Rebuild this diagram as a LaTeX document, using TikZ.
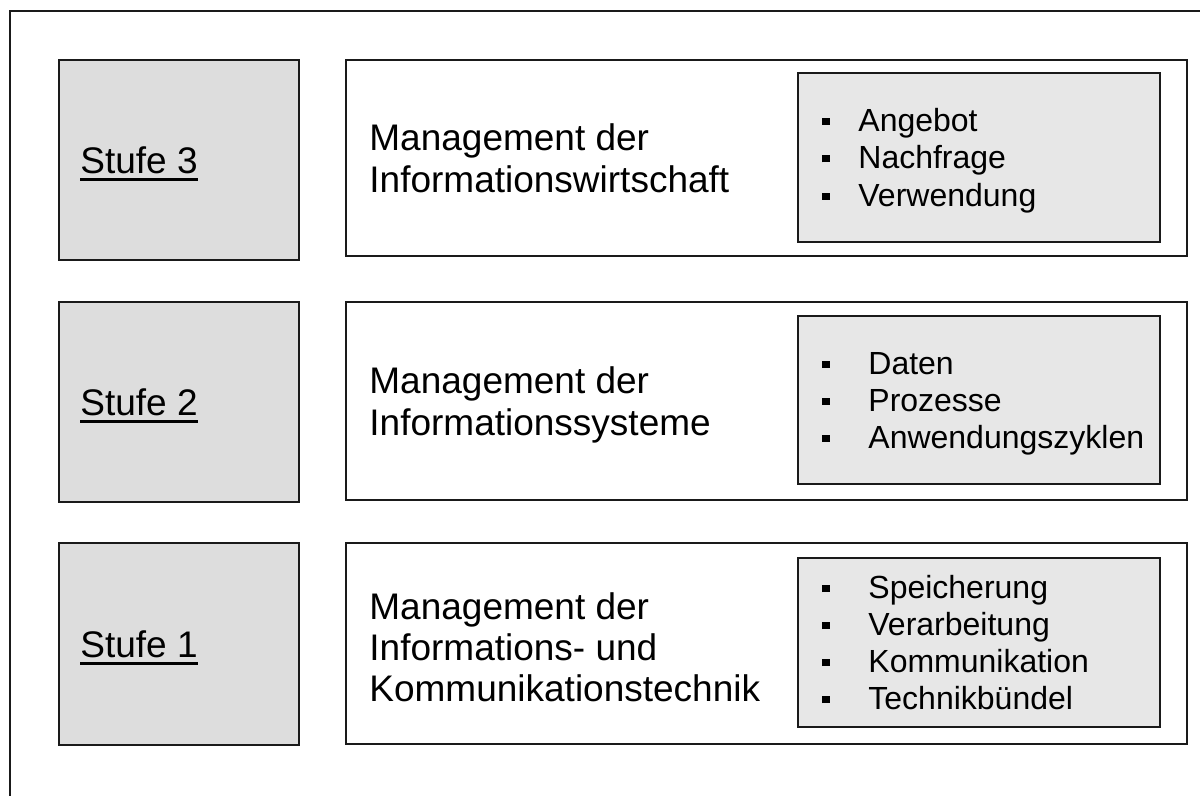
\documentclass[tikz,border=0pt]{standalone}
\usepackage{fontspec}
\setmainfont{Liberation Sans}
\definecolor{stufegrey}{HTML}{DDDDDD}
\definecolor{listgrey}{HTML}{E7E7E7}
\definecolor{edge}{HTML}{1A1A1A}
% underlined level label with a heavier rule
\newcommand\stufeul[1]{\setbox0\hbox{#1}\rlap{\rule[-3.7pt]{\wd0}{1.6pt}}\box0}
% small square bullet
\newcommand\sqbullet{\rule[3.25pt]{3.6pt}{3.6pt}}
\begin{document}
\begin{tikzpicture}[x=0.5pt,y=-0.5pt,
  frame/.style={draw=edge,line width=1pt},
  box/.style={rectangle,draw=edge,line width=1.2pt,inner sep=0pt,outer sep=0pt},
  levelbox/.style={box,fill=stufegrey,minimum width=120pt},
  mainbox/.style={box,fill=white,minimum width=420.5pt},
  listbox/.style={box,fill=listgrey,minimum width=181pt},
  levellabel/.style={anchor=base west,inner sep=0pt,font=\fontsize{18.5}{20}\selectfont},
  maintext/.style={anchor=base west,inner sep=0pt,font=\fontsize{18.5}{20}\selectfont},
  listitem/.style={anchor=base west,inner sep=0pt,font=\fontsize{16}{18.5}\selectfont},
]
\useasboundingbox (0,0) rectangle (1200,796);
\clip (0,0) rectangle (1200,796);
\fill[white] (0,0) rectangle (1200,796);

% surrounding frame (runs past the page on the right and bottom)
\draw[frame] (10,820) -- (10,11) -- (1220,11);

% ---- Stufe 3 ----
\node[levelbox,minimum height=100pt] (s3) at (179,160) {};
\node[mainbox,minimum height=98pt] (m3) at (766.5,158) {};
\node[listbox,minimum height=84.5pt] (l3) at (979,157.5) {};
\node[levellabel] (s3t) at (80,173.5) {\stufeul{Stufe 3}};
\node[maintext] (m3a) at (369,151) {Management der};
\node[maintext] (m3b) at (369,193) {Informationswirtschaft};
\node[listitem] (l3a) at (822,131.5) {\makebox[18pt][l]{\sqbullet}Angebot};
\node[listitem] (l3b) at (822,169) {\makebox[18pt][l]{\sqbullet}Nachfrage};
\node[listitem] (l3c) at (822,206.5) {\makebox[18pt][l]{\sqbullet}Verwendung};

% ---- Stufe 2 ----
\node[levelbox,minimum height=100pt] (s2) at (179,402) {};
\node[mainbox,minimum height=99pt] (m2) at (766.5,401) {};
\node[listbox,minimum height=84pt] (l2) at (979,400) {};
\node[levellabel] (s2t) at (80,415.5) {\stufeul{Stufe 2}};
\node[maintext] (m2a) at (369,393.5) {Management der};
\node[maintext] (m2b) at (369,435.5) {Informationssysteme};
\node[listitem] (l2a) at (822,374.5) {\makebox[23pt][l]{\sqbullet}Daten};
\node[listitem] (l2b) at (822,411.5) {\makebox[23pt][l]{\sqbullet}Prozesse};
\node[listitem] (l2c) at (822,448.5) {\makebox[23pt][l]{\sqbullet}Anwendungszyklen};

% ---- Stufe 1 ----
\node[levelbox,minimum height=101pt] (s1) at (179,644) {};
\node[mainbox,minimum height=100.5pt] (m1) at (766.5,643.5) {};
\node[listbox,minimum height=84.5pt] (l1) at (979,642.5) {};
\node[levellabel] (s1t) at (80,657.5) {\stufeul{Stufe 1}};
\node[maintext] (m1a) at (369,619.5) {Management der};
\node[maintext] (m1b) at (369,660.5) {Informations- und};
\node[maintext] (m1c) at (369,701.5) {Kommunikationstechnik};
\node[listitem] (l1a) at (822,598.5) {\makebox[23pt][l]{\sqbullet}Speicherung};
\node[listitem] (l1b) at (822,635.5) {\makebox[23pt][l]{\sqbullet}Verarbeitung};
\node[listitem] (l1c) at (822,672.5) {\makebox[23pt][l]{\sqbullet}Kommunikation};
\node[listitem] (l1d) at (822,709.5) {\makebox[23pt][l]{\sqbullet}Technikbündel};
\end{tikzpicture}
\end{document}
